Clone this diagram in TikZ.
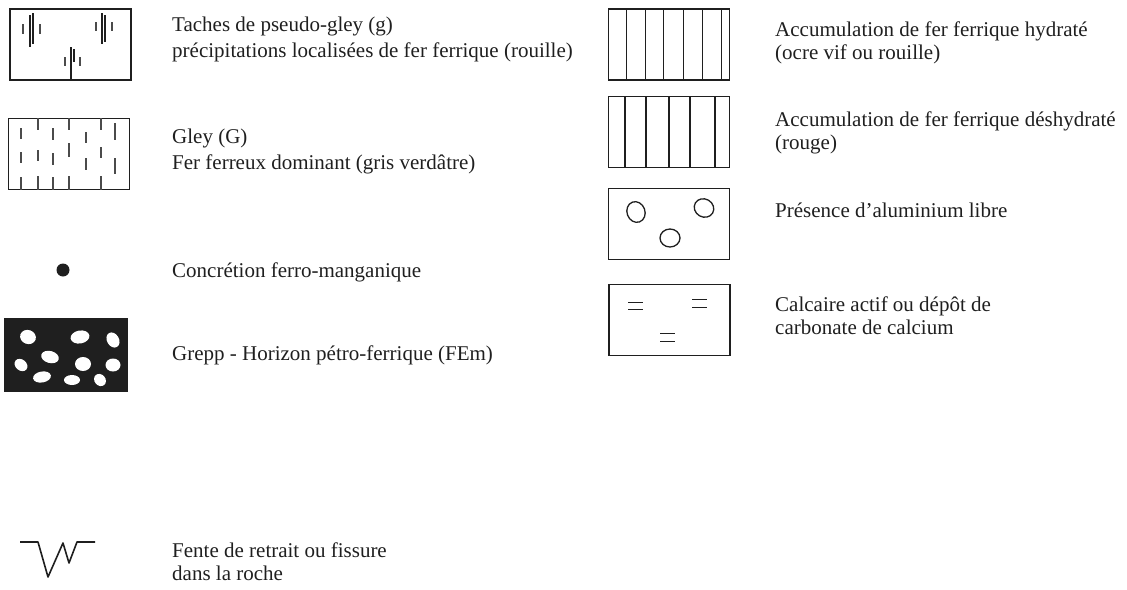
\documentclass[tikz,border=0pt]{standalone}
\usepackage{fontspec}
\setmainfont{Liberation Serif}
\usetikzlibrary{positioning}
\definecolor{MyInk}{rgb}{0.12,0.12,0.12}
\tikzset{
    legendbox/.style={
      rectangle,
      draw=MyInk,
      line width=1.6pt,
      minimum width=121pt,
      minimum height=71pt,
      inner sep=0pt
    },
    lefttext/.style={
      anchor=west,
      inner sep=0pt,
      align=left,
      text=MyInk,
      font=\fontsize{21}{26}\selectfont
    },
    righttext/.style={
      anchor=west,
      inner sep=0pt,
      align=left,
      text=MyInk,
      font=\fontsize{21}{23}\selectfont
    },
    gleydash/.style={draw=MyInk!80,line width=1.6pt},
    blob/.style={fill=white,draw=none},
}

\begin{document}
\begin{tikzpicture}[x=1pt,y=-1pt]
    \useasboundingbox (0,0) rectangle (1127,589);

    % left column
    \begin{scope}
      \draw (70.5,44.5) node[legendbox] (PseudoGley) {};
      \draw[line width=1.1pt,color=MyInk] (30,15) -- (30,47) (33,13) -- (33,44);
      \draw[gleydash] (23,24) -- (23,34) (40,24) -- (40,34);
      \draw[line width=1.1pt,color=MyInk] (102,13) -- (102,44) (105,15) -- (105,42);
      \draw[gleydash] (96,22) -- (96,31) (112,22) -- (112,31);
      \draw[line width=1.1pt,color=MyInk] (71,47) -- (71,80) (74,49) -- (74,62);
      \draw[gleydash] (65,57) -- (65,66) (80,57) -- (80,66);
      \node[lefttext] (PseudoGleyTxt) at (172,39)
        {Taches de pseudo-gley (g)\\pr\'ecipitations localis\'ees de fer ferrique (rouille)};

      \draw (69,154) node[legendbox] (Gley) {};
      % ticks from the top edge
      \draw[gleydash] (38,118) -- (38,130) (69,118) -- (69,130) (101,118) -- (101,130);
      % free dashes
      \draw[gleydash] (21,128) -- (21,139) (53,128) -- (53,140) (86,132) -- (86,143) (115,123) -- (115,140);
      \draw[gleydash] (21,152) -- (21,163) (38,150) -- (38,161) (53,153) -- (53,165) (69,143) -- (69,157)
                      (86,158) -- (86,170) (101,147) -- (101,158) (115,158) -- (115,174);
      % ticks from the bottom edge
      \draw[gleydash] (21,177) -- (21,190) (38,176) -- (38,190) (53,177) -- (53,190) (69,176) -- (69,190)
                      (101,176) -- (101,190);
      \node[lefttext] (GleyTxt) at (172,151)
        {Gley (G)\\Fer ferreux dominant (gris verd\^atre)};

      \draw (63,270) node[circle,fill=MyInk,minimum size=13pt,inner sep=0pt] (Concretion) {};
      \node[lefttext] (ConcretionTxt) at (172,272) {Concr\'etion ferro-manganique};

      \draw (66,355) node[legendbox,fill=MyInk,minimum width=122pt,minimum height=72pt] (Grepp) {};
      \fill[blob,rotate around={-20:(28,337)}] (28,337) ellipse (8 and 7);
      \fill[blob,rotate around={10:(80,337)}] (80,337) ellipse (9.5 and 6.5);
      \fill[blob,rotate around={-60:(113,340)}] (113,340) ellipse (8 and 6);
      \fill[blob,rotate around={-15:(50,357)}] (50,357) ellipse (9 and 6);
      \fill[blob,rotate around={-40:(21,365)}] (21,365) ellipse (7 and 5.5);
      \fill[blob] (83,364) ellipse (8 and 7);
      \fill[blob] (113,365) ellipse (7.5 and 6.5);
      \fill[blob,rotate around={10:(42,377)}] (42,377) ellipse (9 and 5.5);
      \fill[blob] (72,380) ellipse (8 and 5);
      \fill[blob,rotate around={-50:(100,380)}] (100,380) ellipse (6.5 and 5.5);
      \node[lefttext] (GreppTxt) at (172,355) {Grepp - Horizon p\'etro-ferrique (FEm)};

      \coordinate (FenteA) at (20,542);
      \coordinate (FenteB) at (95,542);
      \draw[line width=1.6pt,color=MyInk,line join=round] (FenteA) -- (38,542) -- (48,577)
        -- (63,543) -- (69,563) -- (77,542) -- (FenteB);
      \node[righttext] (FenteTxt) at (172,562)
        {Fente de retrait ou fissure\\dans la roche};
    \end{scope}

    % right column
    \begin{scope}
      \draw (669,44.5) node[legendbox] (HydFer) {};
      \draw[line width=1pt,color=MyInk] (626,9) -- (626,80) (645,9) -- (645,80) (663,9) -- (663,80)
        (683,9) -- (683,80) (702,9) -- (702,80) (721,9) -- (721,80);
      \node[righttext] (HydFerTxt) at (775,43)
        {Accumulation de fer ferrique hydrat\'e\\(ocre vif ou rouille)};

      \draw (669,132) node[legendbox] (DehydFer) {};
      \draw[line width=2.2pt,color=MyInk] (625,97) -- (625,167) (646,97) -- (646,167) (669,97) -- (669,167)
        (690,97) -- (690,167) (715,97) -- (715,167);
      \node[righttext] (DehydFerTxt) at (775,133)
        {Accumulation de fer ferrique d\'eshydrat\'e\\(rouge)};

      \draw (669,224) node[legendbox] (Alu) {};
      \draw[line width=1.3pt,color=MyInk,rotate around={20:(636,212)}] (636,212) ellipse (9 and 10.5);
      \draw[line width=1.3pt,color=MyInk,rotate around={-30:(704,208)}] (704,208) ellipse (10 and 9);
      \draw[line width=1.3pt,color=MyInk] (670,238) ellipse (10 and 9);
      \node[righttext] (AluTxt) at (775,210) {Pr\'esence d'aluminium libre};

      \draw (669.5,320) node[legendbox] (Calc) {};
      \draw[line width=1pt,color=MyInk] (628,302) -- (643,302) (628,309) -- (643,309);
      \draw[line width=1pt,color=MyInk] (692,299) -- (707,299) (692,307) -- (707,307);
      \draw[line width=1pt,color=MyInk] (660,333) -- (675,333) (660,341) -- (675,341);
      \node[righttext] (CalcTxt) at (775,316)
        {Calcaire actif ou d\'ep\^ot de\\carbonate de calcium};
    \end{scope}
  \end{tikzpicture}
\end{document}
